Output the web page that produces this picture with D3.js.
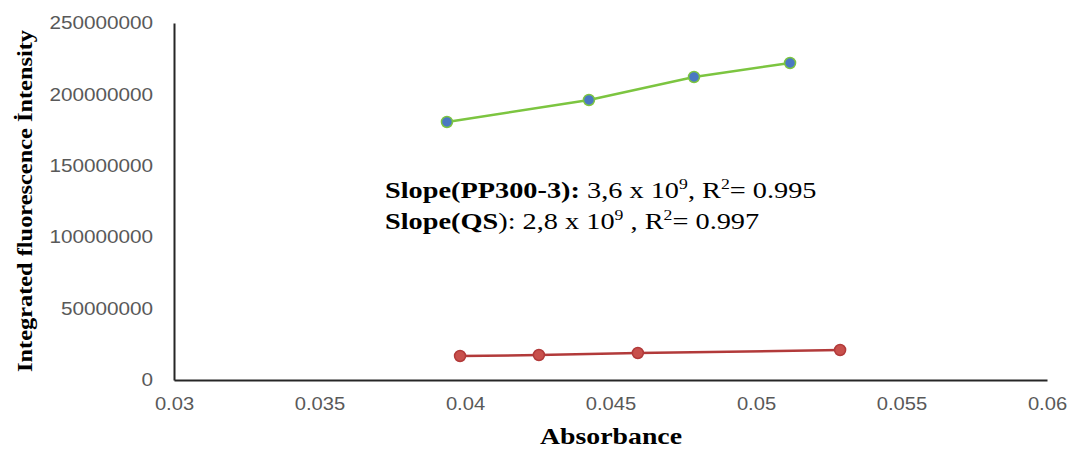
<!DOCTYPE html>
<html lang="en">
<head>
<meta charset="utf-8">
<title>Integrated fluorescence vs Absorbance</title>
<script src="https://d3js.org/d3.v7.min.js"></script>
<style>
  body { margin: 0; background: #fff; }
  .tick text { font-family: "Liberation Sans", Arial, sans-serif; font-size: 18px; fill: #595959; }
  .title { font-family: "Liberation Serif", "Times New Roman", serif; font-weight: bold; fill: #000; }
  .note { font-family: "Liberation Serif", "Times New Roman", serif; font-size: 24px; fill: #000; }
</style>
</head>
<body>
<svg width="1067" height="449"></svg>
<script>
// data
const xTicks = [0.03, 0.035, 0.04, 0.045, 0.05, 0.055, 0.06];
const yTicks = [0, 50000000, 100000000, 150000000, 200000000, 250000000];

const ppAbs = [0.03938, 0.04426, 0.04787, 0.05117];
const ppInt = [180700000, 196100000, 212200000, 222000000];

const qsAbs = [0.03983, 0.04254, 0.04594, 0.05289];
const qsInt = [16800000, 17500000, 18900000, 21000000];

const svg = d3.select('svg');

const x = d3.scaleLinear().domain([0.03, 0.06]).range([174, 1047]);
const y = d3.scaleLinear().domain([0, 250000000]).range([380, 23]);

// the source picture is a bit wider than tall, stretch the labels a little
function widen(sel, k) {
  sel.each(function () {
    const w = this.getComputedTextLength();
    d3.select(this).attr('textLength', w * k).attr('lengthAdjust', 'spacingAndGlyphs');
  });
}

// axes (no tick marks, only labels)
const xAxis = svg.append('g')
  .attr('transform', 'translate(0,380)')
  .call(d3.axisBottom(x).tickValues(xTicks).tickFormat(d => String(+d.toFixed(3))).tickSize(0).tickPadding(17));
xAxis.select('.domain').attr('stroke', '#262626').attr('stroke-width', 2);
widen(xAxis.selectAll('.tick text'), 1.12);

const yAxis = svg.append('g')
  .attr('transform', 'translate(174,0)')
  .call(d3.axisLeft(y).tickValues(yTicks).tickFormat(d => String(d)).tickSize(0).tickPadding(21));
yAxis.select('.domain').attr('stroke', '#262626').attr('stroke-width', 2);
widen(yAxis.selectAll('.tick text'), 1.15);

// series
const series = [
  { xs: ppAbs, ys: ppInt, line: '#7cc540', fill: '#4a78c2', stroke: '#7cc540' },
  { xs: qsAbs, ys: qsInt, line: '#b23a3a', fill: '#c8504c', stroke: '#b23a3a' }
];

const line = d3.line().x(d => x(d[0])).y(d => y(d[1]));

series.forEach(s => {
  const pts = s.xs.map((v, i) => [v, s.ys[i]]);
  svg.append('path')
    .datum(pts)
    .attr('fill', 'none')
    .attr('stroke', s.line)
    .attr('stroke-width', 2.5)
    .attr('d', line);
  svg.selectAll(null)
    .data(pts)
    .enter()
    .append('circle')
    .attr('cx', d => x(d[0]))
    .attr('cy', d => y(d[1]))
    .attr('r', 5.5)
    .attr('fill', s.fill)
    .attr('stroke', s.stroke)
    .attr('stroke-width', 1.5);
});

// slope annotation
const note = svg.append('g').attr('transform', 'translate(385,0) scale(1.18,1)');

const n1 = note.append('text').attr('class', 'note').attr('x', 0).attr('y', 198);
n1.append('tspan').attr('font-weight', 'bold').text('Slope(PP300-3):');
n1.append('tspan').text(' 3,6 x 10');
n1.append('tspan').attr('font-size', '15px').attr('dy', -9).text('9');
n1.append('tspan').attr('dy', 9).text(', R');
n1.append('tspan').attr('font-size', '15px').attr('dy', -9).text('2');
n1.append('tspan').attr('dy', 9).text('= 0.995');

const n2 = note.append('text').attr('class', 'note').attr('x', 0).attr('y', 229);
n2.append('tspan').attr('font-weight', 'bold').text('Slope(QS');
n2.append('tspan').text('): 2,8 x 10');
n2.append('tspan').attr('font-size', '15px').attr('dy', -9).text('9');
n2.append('tspan').attr('dy', 9).text(' , R');
n2.append('tspan').attr('font-size', '15px').attr('dy', -9).text('2');
n2.append('tspan').attr('dy', 9).text('= 0.997');

// axis titles
svg.append('text')
  .attr('class', 'title')
  .attr('font-size', '24px')
  .attr('text-anchor', 'middle')
  .attr('x', 611)
  .attr('y', 444)
  .attr('textLength', 142)
  .attr('lengthAdjust', 'spacingAndGlyphs')
  .text('Absorbance');

svg.append('text')
  .attr('class', 'title')
  .attr('font-size', '22px')
  .attr('text-anchor', 'middle')
  .attr('transform', 'translate(32,201) rotate(-90)')
  .attr('textLength', 342)
  .attr('lengthAdjust', 'spacingAndGlyphs')
  .text('Integrated fluorescence İntensity');
</script>
</body>
</html>
